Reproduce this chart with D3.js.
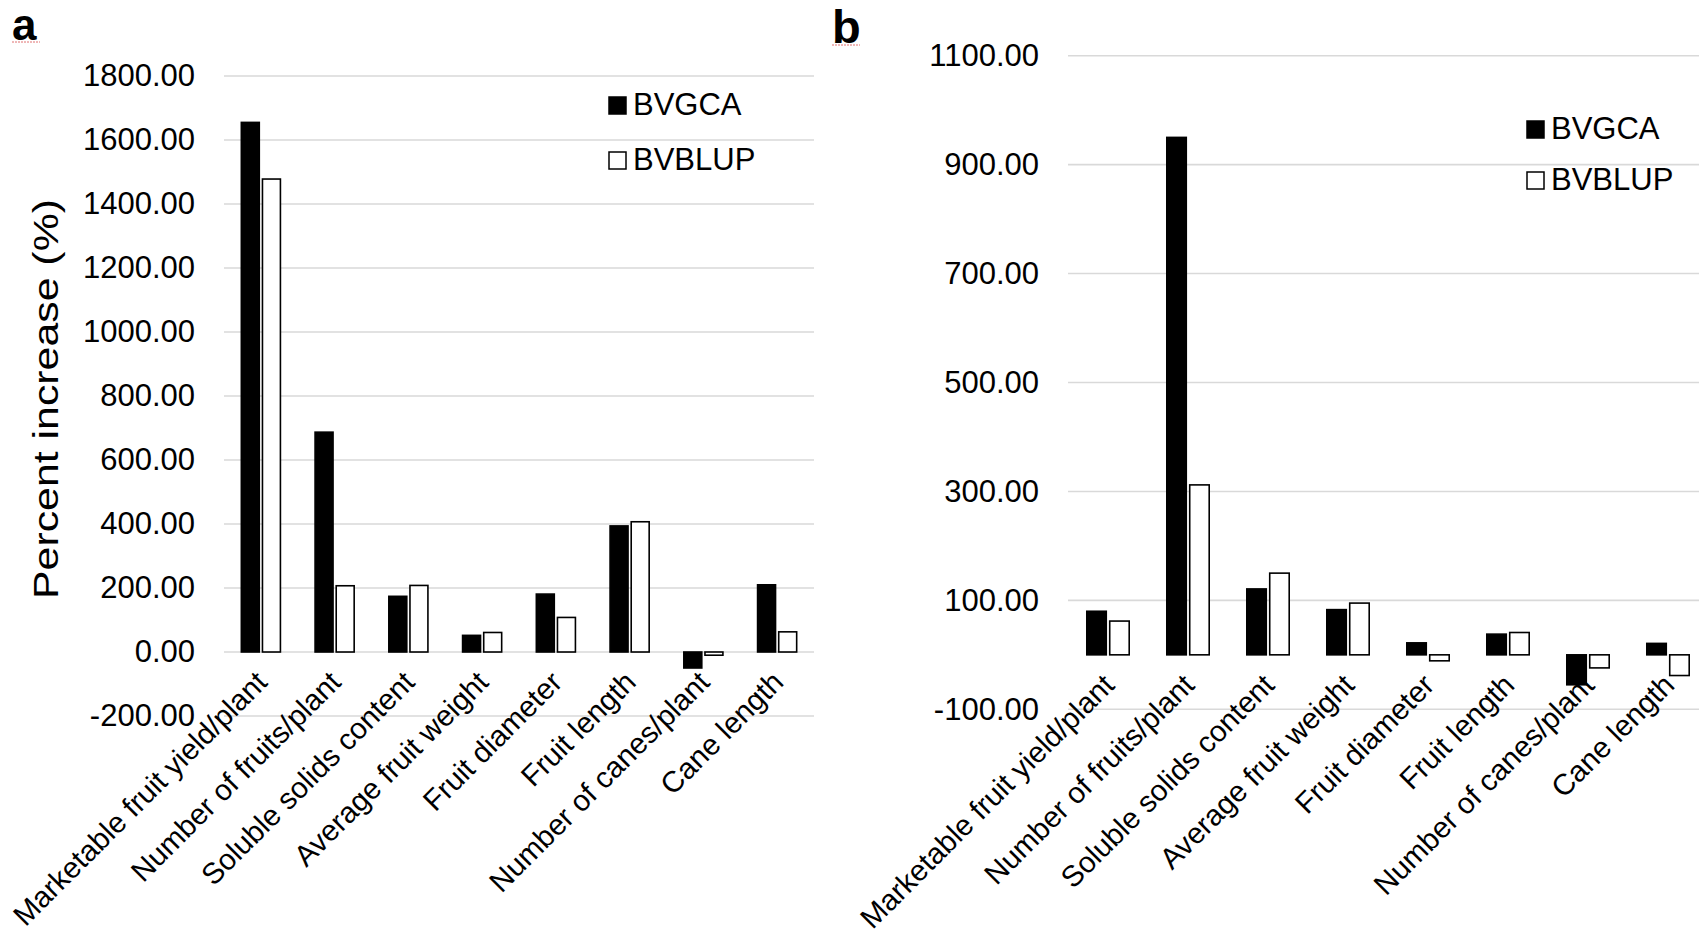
<!DOCTYPE html>
<html>
<head>
<meta charset="utf-8">
<script src="https://cdn.jsdelivr.net/npm/d3@7"></script>
<style>
  body { margin: 0; background: #fff; }
  svg { display: block; font-family: "Liberation Sans", Arial, sans-serif; }
</style>
</head>
<body>
<svg width="1699" height="934"></svg>
<script>
// traits on the x axis, same order in both panels
var categories = ["Marketable fruit yield/plant", "Number of fruits/plant", "Soluble solids content",
    "Average fruit weight", "Fruit diameter", "Fruit length", "Number of canes/plant", "Cane length"];
var seriesNames = ["BVGCA", "BVBLUP"];

// panel a values (percent increase)
var gcaA = [1655, 687, 174, 52, 181, 394, -50, 210];
var blupA = [1478, 207, 208, 61, 108, 407, -10, 63];
var ticksA = [-200, 0, 200, 400, 600, 800, 1000, 1200, 1400, 1600, 1800];

// panel b values
var gcaB = [80, 950, 121, 83, 22, 38, -55, 21];
var blupB = [62, 312, 150, 95, -11, 41, -24, -38];
var ticksB = [-100, 100, 300, 500, 700, 900, 1100];

var seriesColors = { "BVGCA": "#000", "BVBLUP": "#fff" };

var svg = d3.select("svg");
svg.append("rect").attr("width", 1699).attr("height", 934).attr("fill", "#fff");

function drawPanel(p) {
    var g = svg.append("g");

    var y = d3.scaleLinear()
        .domain([p.ticks[0], p.ticks[p.ticks.length - 1]])
        .range([p.bottom, p.top]);

    var x = d3.scaleBand()
        .domain(categories)
        .range([p.left, p.right]);

    var xs = d3.scaleBand()
        .domain(seriesNames)
        .range([0, x.bandwidth()])
        .paddingInner(0.15)
        .paddingOuter(0.82);

    // gridlines
    g.selectAll(".grid")
        .data(p.ticks)
        .enter().append("line")
        .attr("x1", p.left).attr("x2", p.right)
        .attr("y1", function(d) { return y(d); })
        .attr("y2", function(d) { return y(d); })
        .attr("stroke", "#d9d9d9")
        .attr("stroke-width", 1.6);

    // tick labels (plain hyphen for negatives, like the original)
    var axis = g.append("g")
        .attr("transform", "translate(" + (p.left - 29) + ",0)")
        .call(d3.axisLeft(y).tickValues(p.ticks)
            .tickFormat(function(d) { return d.toFixed(2); })
            .tickSize(0).tickPadding(0));
    axis.select(".domain").remove();
    axis.selectAll("text")
        .attr("font-size", 31)
        .attr("font-family", "Liberation Sans, Arial, sans-serif")
        .attr("fill", "#000");

    // bars
    var rows = categories.map(function(c, i) {
        return { cat: c, vals: [{ s: "BVGCA", v: p.gca[i] }, { s: "BVBLUP", v: p.blup[i] }] };
    });

    var grp = g.selectAll(".cat")
        .data(rows)
        .enter().append("g")
        .attr("transform", function(d) { return "translate(" + x(d.cat) + ",0)"; });

    grp.selectAll("rect")
        .data(function(d) { return d.vals; })
        .enter().append("rect")
        .attr("x", function(d) { return xs(d.s); })
        .attr("width", xs.bandwidth())
        .attr("y", function(d) { return y(Math.max(0, d.v)); })
        .attr("height", function(d) { return Math.abs(y(d.v) - y(0)); })
        .attr("fill", function(d) { return seriesColors[d.s]; })
        .attr("stroke", "#000")
        .attr("stroke-width", 1.6);

    // rotated category labels
    g.selectAll(".catlabel")
        .data(categories)
        .enter().append("text")
        .attr("transform", function(d) {
            return "translate(" + (x(d) + x.bandwidth() / 2 + 8) + "," + (y(0) + 32) + ") rotate(-45)";
        })
        .attr("text-anchor", "end")
        .attr("font-size", 29.5)
        .text(function(d) { return d; });

    // legend
    var leg = g.selectAll(".legend")
        .data(seriesNames)
        .enter().append("g")
        .attr("transform", function(d, i) { return "translate(" + p.legendX + "," + (p.legendY + i * p.legendGap) + ")"; });
    leg.append("rect")
        .attr("x", 0).attr("y", -18)
        .attr("width", 17).attr("height", 17)
        .attr("fill", function(d) { return seriesColors[d]; })
        .attr("stroke", "#000")
        .attr("stroke-width", 1.5);
    leg.append("text")
        .attr("x", 24)
        .attr("font-size", 31)
        .text(function(d) { return d; });

    // panel letter with the little red squiggle under it
    g.append("text")
        .attr("x", p.letterX).attr("y", p.letterY)
        .attr("font-size", p.letterSize)
        .attr("font-weight", "bold")
        .text(p.letter);
    g.append("line")
        .attr("x1", p.letterX).attr("x2", p.letterX + 28)
        .attr("y1", p.letterY + 2).attr("y2", p.letterY + 2)
        .attr("stroke", "#e07070")
        .attr("stroke-width", 1)
        .attr("stroke-dasharray", "2,1");
}

drawPanel({
    letter: "a", letterX: 12, letterY: 40, letterSize: 44,
    gca: gcaA, blup: blupA, ticks: ticksA,
    left: 224, right: 814, top: 76, bottom: 716,
    legendX: 609, legendY: 115, legendGap: 55
});

drawPanel({
    letter: "b", letterX: 832, letterY: 43, letterSize: 47,
    gca: gcaB, blup: blupB, ticks: ticksB,
    left: 1068, right: 1708, top: 55.7, bottom: 709.3,
    legendX: 1527, legendY: 139, legendGap: 51
});

// y axis title, left panel only
svg.append("text")
    .attr("transform", "translate(58,399) rotate(-90)")
    .attr("text-anchor", "middle")
    .attr("font-size", 35)
    .attr("textLength", 400)
    .attr("lengthAdjust", "spacingAndGlyphs")
    .text("Percent increase (%)");
</script>
</body>
</html>
